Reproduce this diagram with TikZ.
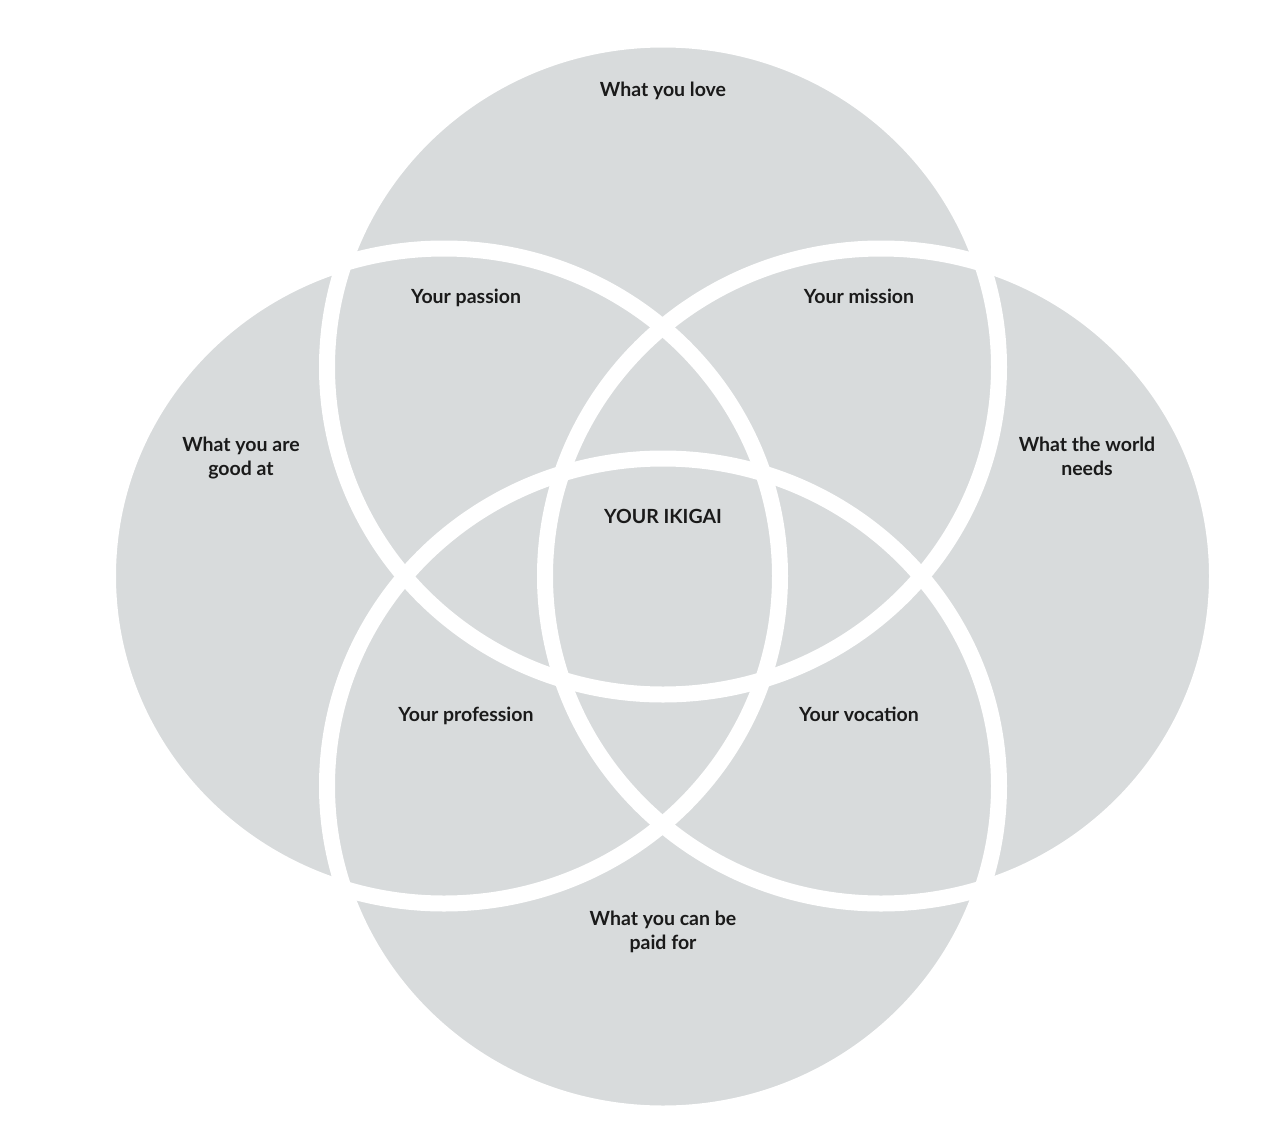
\documentclass[tikz,border=0pt]{standalone}
\usepackage{fontspec}
\setmainfont{Lato}
\definecolor{circgray}{RGB}{216,219,220}
\definecolor{textc}{RGB}{26,26,26}
\begin{document}
\begin{tikzpicture}[x=1pt,y=-1pt,
  circfill/.style={fill=circgray, draw=none},
  circline/.style={draw=white, line width=16pt},
  lbl/.style={font=\bfseries\fontsize{19.5}{24}\selectfont, text=textc, align=center, inner sep=0pt},
  onelbl/.style={lbl, text height=14pt, text depth=4pt}]
\useasboundingbox (0,0) rectangle (1270,1138);
\fill[white] (0,0) rectangle (1270,1138);
% circle centres
\coordinate (ctop) at (663,367);
\coordinate (cbot) at (663,786);
\coordinate (cleft) at (444,576);
\coordinate (cright) at (881,576);
% fills
\foreach \c in {ctop,cbot,cleft,cright}
  \path[circfill] (\c) ellipse [x radius=336pt, y radius=327.5pt];
% white outlines
\foreach \c in {ctop,cbot,cleft,cright}
  \path[circline] (\c) ellipse [x radius=336pt, y radius=327.5pt];
% labels
\node[onelbl] (love) at (663,91) {What you love};
\node[lbl] (good) at (241,458) {What you are\\good at};
\node[lbl] (world) at (1087,456) {What the world\\needs};
\node[lbl] (paid) at (663,932) {What you can be\\paid for};
\node[onelbl] (passion) at (466,298) {Your passion};
\node[onelbl] (mission) at (859,298) {Your mission};
\node[onelbl] (profession) at (466,716) {Your profession};
\node[onelbl] (vocation) at (859,716) {Your vocation};
\node[onelbl] (ikigai) at (663,518) {YOUR IKIGAI};
\end{tikzpicture}
\end{document}
